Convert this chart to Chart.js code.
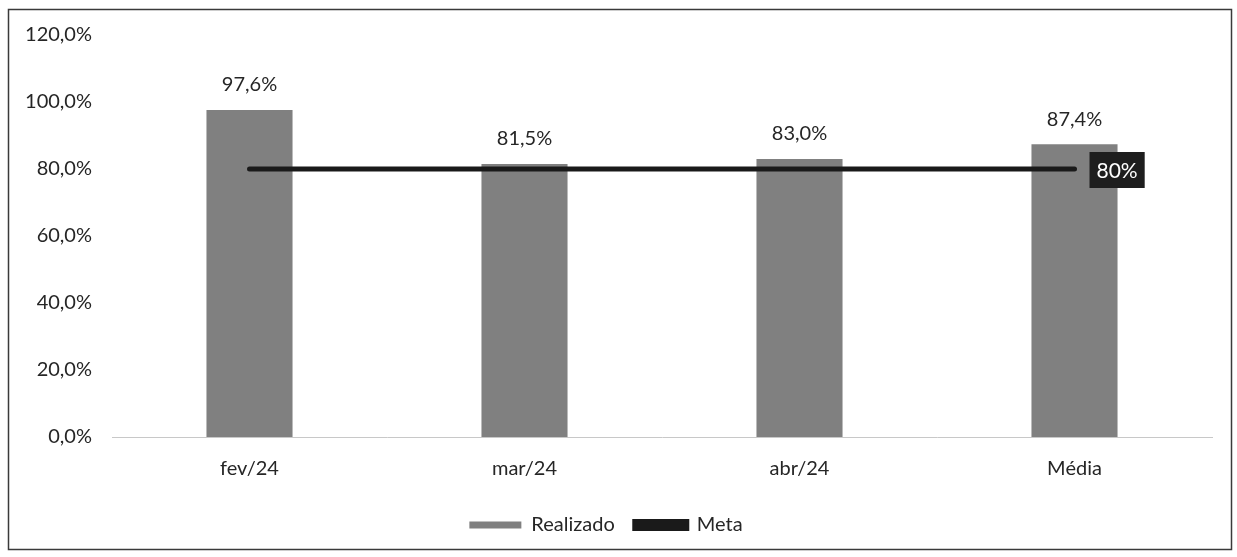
<!DOCTYPE html>
<html>
<head>
<meta charset="utf-8">
<script src="https://cdn.jsdelivr.net/npm/chart.js@4"></script>
<style>
  html, body { margin: 0; padding: 0; background: #fff; }
  #wrap { position: absolute; left: 0; top: 0; width: 1237px; height: 557px; }
</style>
</head>
<body>
<div id="wrap"><canvas id="c" width="1237" height="557"></canvas></div>
<script>
const categories = ['fev/24', 'mar/24', 'abr/24', 'Média'];
const realizado = [97.6, 81.5, 83.0, 87.4];
const meta = [80, 80, 80, 80];
const metaLabel = '80%';
const yTicks = [0, 20, 40, 60, 80, 100, 120];

const FONT = 'Lato, "Open Sans", sans-serif';
const TEXT = '#262626';

function fmt(v) { return v.toFixed(1).replace('.', ',') + '%'; }

const framePlugin = {
  id: 'frame',
  beforeDraw(chart) {
    const ctx = chart.ctx;
    ctx.save();
    ctx.fillStyle = '#ffffff';
    ctx.fillRect(0, 0, chart.width, chart.height);
    ctx.strokeStyle = '#3a3a3a';
    ctx.lineWidth = 1.5;
    ctx.strokeRect(8.5, 9.5, 1223, 540);
    ctx.restore();
  }
};

const labelPlugin = {
  id: 'valueLabels',
  afterDatasetsDraw(chart) {
    const ctx = chart.ctx;
    ctx.save();
    const barMeta = chart.getDatasetMeta(0);
    ctx.font = '20px ' + FONT;
    ctx.fillStyle = TEXT;
    ctx.textAlign = 'center';
    ctx.textBaseline = 'bottom';
    barMeta.data.forEach((el, i) => {
      ctx.fillText(fmt(realizado[i]), el.x, el.y - 15);
    });
    const lineMeta = chart.getDatasetMeta(1);
    const last = lineMeta.data[lineMeta.data.length - 1];
    ctx.font = '21px ' + FONT;
    const w = ctx.measureText(metaLabel).width + 14;
    const h = 36;
    const bx = last.x + 15, by = last.y - h / 2 + 1;
    ctx.fillStyle = '#1e1e1e';
    ctx.fillRect(bx, by, w, h);
    ctx.fillStyle = '#ffffff';
    ctx.textAlign = 'center';
    ctx.textBaseline = 'middle';
    ctx.fillText(metaLabel, bx + w / 2, by + h / 2 + 1);
    ctx.restore();
  }
};

new Chart(document.getElementById('c'), {
  type: 'bar',
  data: {
    labels: categories,
    datasets: [
      {
        label: 'Realizado',
        data: realizado,
        backgroundColor: '#808080',
        categoryPercentage: 1,
        barPercentage: 0.313,
        order: 2
      },
      {
        type: 'line',
        label: 'Meta',
        data: meta,
        borderColor: '#1a1a1a',
        backgroundColor: '#1a1a1a',
        borderWidth: 5,
        borderCapStyle: 'round',
        pointRadius: 0,
        fill: false,
        order: 1
      }
    ]
  },
  options: {
    responsive: false,
    animation: false,
    layout: { padding: { left: 0, right: 25, top: 35, bottom: 12 } },
    plugins: {
      legend: {
        position: 'bottom',
        labels: {
          font: { family: FONT, size: 20 },
          color: TEXT,
          boxWidth: 52,
          boxHeight: 7,
          padding: 20,
          sort: (a, b) => a.datasetIndex - b.datasetIndex
        }
      },
      tooltip: { enabled: false }
    },
    scales: {
      x: {
        grid: { display: false, drawTicks: false },
        border: { display: true, color: '#c8c8c8', width: 1 },
        ticks: { font: { family: FONT, size: 20 }, color: TEXT, padding: 20 },
        afterFit(s) { s.height = 58; }
      },
      y: {
        min: 0, max: 120,
        afterBuildTicks(s) { s.ticks = yTicks.map(v => ({ value: v })); },
        grid: { display: false, drawTicks: false },
        border: { display: false },
        ticks: {
          font: { family: FONT, size: 20 },
          color: TEXT,
          padding: 20,
          callback: v => fmt(v)
        },
        afterFit(s) { s.width = 112; }
      }
    }
  },
  plugins: [framePlugin, labelPlugin]
});
</script>
</body>
</html>
